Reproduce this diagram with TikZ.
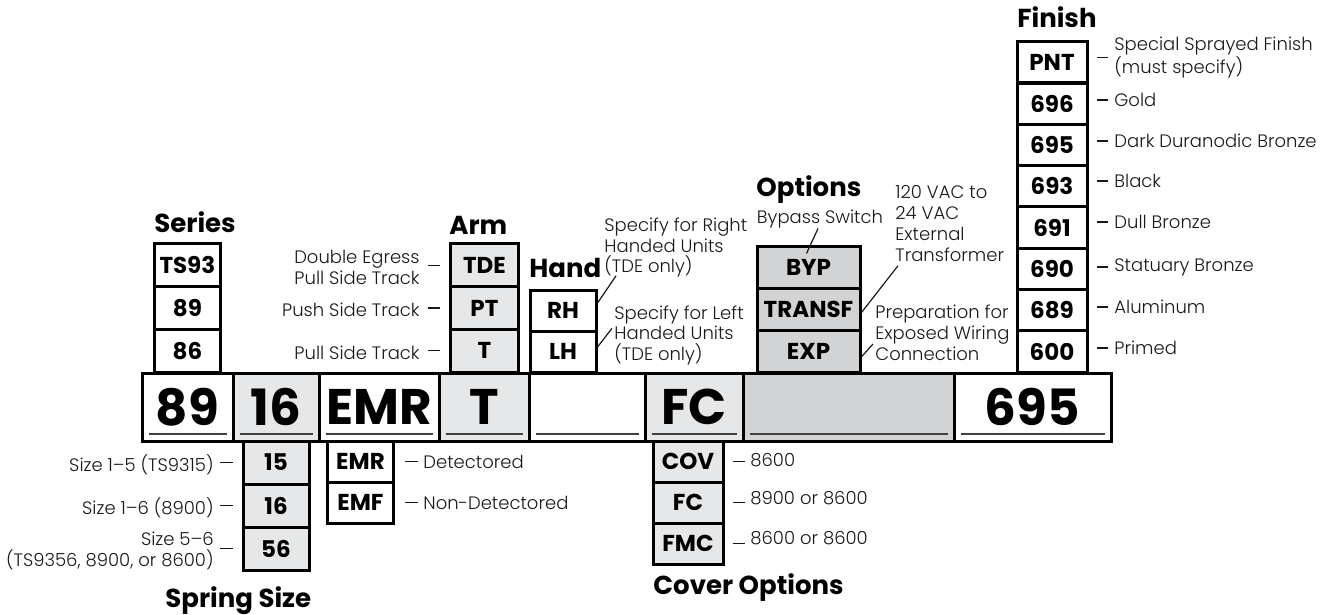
\documentclass[tikz,border=0pt]{standalone}
\usepackage{fontspec}
\setmainfont{Poppins}
\newfontfamily\notefont{Poppins}[UprightFont=* Light]

\definecolor{lightgrey}{HTML}{E6E7E8}
\definecolor{midgrey}{HTML}{D1D3D4}

\tikzset{
  optbox/.style={draw, line width=1.5pt, inner sep=0pt, font=\bfseries\fontsize{11.5}{13}\selectfont},
  barcell/.style={draw, line width=1.5pt, inner sep=0pt, minimum height=34pt, font=\bfseries\fontsize{25}{28}\selectfont},
  heading/.style={anchor=base west, inner sep=0pt, font=\bfseries\fontsize{13}{15}\selectfont},
  note/.style={inner sep=0pt, text=black!90, font=\notefont\fontsize{9}{10.4}\selectfont},
  tick/.style={line width=0.6pt, black!90},
  uline/.style={line width=1pt, black!75},
}

\begin{document}
\begin{tikzpicture}[x=0.5pt, y=-0.5pt]
  \useasboundingbox (0,0) rectangle (1322,615);

  % main order string
  \node[barcell, minimum width=45.5pt] (c89) at (187.5,407) {89};
  \node[barcell, fill=lightgrey, minimum width=43pt] (c16) at (276,407) {16};
  \node[barcell, minimum width=60pt] (cemr) at (379,407) {EMR};
  \node[barcell, fill=lightgrey, minimum width=45pt] (ct) at (484,407) {T};
  \node[barcell, minimum width=58pt] (chand) at (587,407) {};
  \node[barcell, fill=lightgrey, minimum width=49pt] (cfc) at (694,407) {FC};
  \node[barcell, fill=midgrey, minimum width=105.5pt] (copt) at (848.5,407) {};
  \node[barcell, minimum width=78.5pt] (cfin) at (1032.5,407) {695};
  \foreach \c in {c89,c16,cemr,ct,chand,cfc,copt,cfin}
    \draw[uline] ([xshift=4pt,yshift=4.5pt]\c.south west) -- ([xshift=-4pt,yshift=4.5pt]\c.south east);

  % series
  \node[heading] (series) at (154,232) {Series};
  \node[optbox, minimum width=33.3pt, minimum height=21.33pt] (ts93) at (187.4,265.3) {TS93};
  \node[optbox, minimum width=33.3pt, minimum height=21.33pt] (s89) at (187.4,308) {89};
  \node[optbox, minimum width=33.3pt, minimum height=21.33pt] (s86) at (187.4,350.7) {86};

  % arm
  \node[heading] (arm) at (449,234) {Arm};
  \node[optbox, fill=lightgrey, minimum width=33.6pt, minimum height=21.33pt] (tde) at (484.4,265.3) {TDE};
  \node[optbox, fill=lightgrey, minimum width=33.6pt, minimum height=21.33pt] (pt) at (484.4,308) {PT};
  \node[optbox, fill=lightgrey, minimum width=33.6pt, minimum height=21.33pt] (t) at (484.4,350.7) {T};
  \node[note, anchor=east, align=right] (tdenote) at (420,267.5) {Double Egress\\Pull Side Track};
  \node[note, anchor=east] (ptnote) at (420,310) {Push Side Track};
  \node[note, anchor=east] (tnote) at (420,353) {Pull Side Track};
  \draw[tick] ([xshift=-4.5pt]tde.west) -- ++(-12,0);
  \draw[tick] ([xshift=-4.5pt]pt.west) -- ++(-12,0);
  \draw[tick] ([xshift=-4.5pt]t.west) -- ++(-12,0);

  % hand
  \node[heading] (hand) at (529,277) {Hand};
  \node[optbox, minimum width=33pt, minimum height=20.5pt] (rh) at (563,310.5) {RH};
  \node[optbox, minimum width=33pt, minimum height=20.5pt] (lh) at (563,351.5) {LH};
  \node[note, anchor=west, align=left] (rhnote) at (604,247.5) {Specify for Right\\Handed Units\\(TDE only)};
  \node[note, anchor=west, align=left] (lhnote) at (614,335.3) {Specify for Left\\Handed Units\\(TDE only)};
  \draw[tick] ([yshift=3.75pt]rh.east) -- ([xshift=6pt,yshift=1pt]rhnote.south west);
  \draw[tick] ([yshift=2.25pt]lh.east) -- ([xshift=-1pt,yshift=3.5pt]lhnote.west);

  % options
  \node[heading] (options) at (756,196) {Options};
  \node[optbox, fill=midgrey, minimum width=51.5pt, minimum height=20.83pt] (byp) at (808.5,267.8) {BYP};
  \node[optbox, fill=midgrey, minimum width=51.5pt, minimum height=20.83pt] (transf) at (808.5,309.5) {TRANSF};
  \node[optbox, fill=midgrey, minimum width=51.5pt, minimum height=20.83pt] (exp) at (808.5,351.2) {EXP};
  \node[note] (bypnote) at (820,219) {Bypass Switch};
  \node[note, anchor=west, align=left] (xfnote) at (895,223.5) {120 VAC to\\24 VAC\\External\\Transformer};
  \node[note, anchor=west, align=left] (expnote) at (875,332.5) {Preparation for\\Exposed Wiring\\Connection};
  \draw[tick] ([xshift=-1pt]bypnote.south) -- ([xshift=-1pt,yshift=-4pt]byp.north);
  \draw[tick] ([yshift=-1.5pt]transf.east) -- ([xshift=1.5pt,yshift=-2pt]xfnote.south west);
  \draw[tick] ([yshift=-2.8pt]exp.east) -- ([xshift=-1pt,yshift=-5.75pt]expnote.west);

  % finish
  \node[heading] (finish) at (1017,28) {Finish};
  \node[optbox, minimum width=35pt, minimum height=20.65pt] (pnt) at (1052,62.3) {PNT};
  \node[optbox, minimum width=35pt, minimum height=20.65pt] (f696) at (1052,103.7) {696};
  \node[optbox, minimum width=35pt, minimum height=20.65pt] (f695) at (1052,145) {695};
  \node[optbox, minimum width=35pt, minimum height=20.65pt] (f693) at (1052,186.3) {693};
  \node[optbox, minimum width=35pt, minimum height=20.65pt] (f691) at (1052,227.6) {691};
  \node[optbox, minimum width=35pt, minimum height=20.65pt] (f690) at (1052,268.9) {690};
  \node[optbox, minimum width=35pt, minimum height=20.65pt] (f689) at (1052,310.2) {689};
  \node[optbox, minimum width=35pt, minimum height=20.65pt] (f600) at (1052,351.5) {600};
  \node[note, anchor=west, align=left] (npnt) at (1114,57.5) {Special Sprayed Finish\\(must specify)};
  \node[note, anchor=west] (n696) at (1114,100) {Gold};
  \node[note, anchor=west] (n695) at (1114,141) {Dark Duranodic Bronze};
  \node[note, anchor=west] (n693) at (1114,181) {Black};
  \node[note, anchor=west] (n691) at (1114,222) {Dull Bronze};
  \node[note, anchor=west] (n690) at (1114,267) {Statuary Bronze};
  \node[note, anchor=west] (n689) at (1114,307) {Aluminum};
  \node[note, anchor=west] (n600) at (1114,348) {Primed};
  \foreach \f in {npnt,n696,n695,n693,n691,n690,n689,n600}
    \draw[tick] ([xshift=-3pt]\f.west) -- ++(-11,0);

  % spring size
  \node[optbox, fill=lightgrey, minimum width=33pt, minimum height=21.5pt] (s15) at (276,462.5) {15};
  \node[optbox, fill=lightgrey, minimum width=33pt, minimum height=21.5pt] (s16) at (276,505.5) {16};
  \node[optbox, fill=lightgrey, minimum width=33pt, minimum height=21.5pt] (s56) at (276,548.5) {56};
  \node[note, anchor=east] (n15) at (214,465) {Size 1–5 (TS9315)};
  \node[note, anchor=east] (n16) at (214,508) {Size 1–6 (8900)};
  \node[note, anchor=east, align=right] (n56) at (214,551) {Size 5–6\\(TS9356, 8900, or 8600)};
  \draw[tick] ([xshift=-4.5pt]s15.west) -- ++(-13,0);
  \draw[tick] ([xshift=-4.5pt]s16.west) -- ++(-13,0);
  \draw[tick] ([xshift=-4.5pt]s56.west) -- ++(-13,0);
  \node[heading] (spring) at (165,607) {Spring Size};

  % electromagnetic
  \node[optbox, minimum width=33pt, minimum height=20.5pt] (emr) at (360.5,461.5) {EMR};
  \node[optbox, minimum width=33pt, minimum height=20.5pt] (emf) at (360.5,502.5) {EMF};
  \node[note, anchor=west] (emrnote) at (423,462) {Detectored};
  \node[note, anchor=west] (emfnote) at (423,503) {Non-Detectored};
  \draw[tick] ([xshift=5pt]emr.east) -- ++(13,0);
  \draw[tick] ([xshift=5pt]emf.east) -- ++(13,0);

  % cover
  \node[optbox, fill=lightgrey, minimum width=35pt, minimum height=20.5pt] (cov) at (688,461.5) {COV};
  \node[optbox, fill=lightgrey, minimum width=35pt, minimum height=20.5pt] (fc) at (688,502.5) {FC};
  \node[optbox, fill=lightgrey, minimum width=35pt, minimum height=20.5pt] (fmc) at (688,543.5) {FMC};
  \node[note, anchor=west] (covnote) at (750,460) {8600};
  \node[note, anchor=west] (fcnote) at (750,498) {8900 or 8600};
  \node[note, anchor=west] (fmcnote) at (750,538) {8600 or 8600};
  \draw[tick] ([xshift=4pt]cov.east) -- ++(12,0);
  \draw[tick] ([xshift=4pt]fc.east) -- ++(12,0);
  \draw[tick] ([xshift=4pt]fmc.east) -- ++(12,0);
  \node[heading] (cover) at (653,594) {Cover Options};
\end{tikzpicture}
\end{document}
